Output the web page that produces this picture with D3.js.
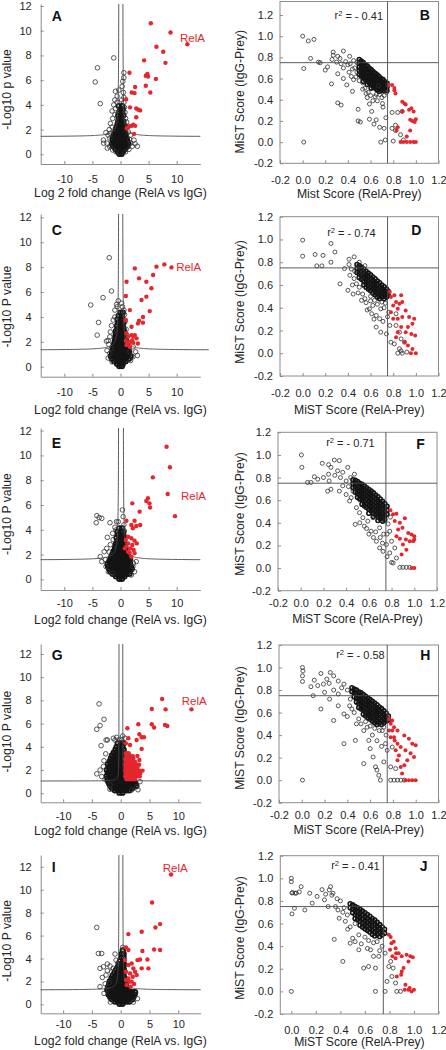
<!DOCTYPE html>
<html><head><meta charset="utf-8">
<script src="https://cdn.jsdelivr.net/npm/d3@7"></script>
<style>
body{margin:0;background:#fff}
svg{display:block}
text{font-family:"Liberation Sans",Arial,Helvetica,sans-serif}
</style>
</head><body>
<svg id="c" width="446" height="1050"></svg>
<script>
// ---------------- tick labels / texts ----------------
const volcanoXTicks = [-10, -5, 0, 5, 10];
const volcanoYTicks = [0, 2, 4, 6, 8, 10, 12];
const mistTicks = [-0.2, 0, 0.2, 0.4, 0.6, 0.8, 1.0, 1.2];
const mistTicksJ = [0, 0.2, 0.4, 0.6, 0.8, 1.0, 1.2];
const volcanoXTitles = ["Log 2 fold change (RelA vs IgG)", "Log2 fold change (RelA vs. IgG)", "Log2 fold change (RelA vs. IgG)", "Log2 fold change (RelA vs. IgG)", "Log2 fold change (RelA vs. IgG)"];
const volcanoYTitles = ["-Log10 p value", "-Log10 P value", "-Log10 P value", "-Log10 P value", "-Log10 P value"];
const mistXTitles = ["Mist Score (RelA-Prey)", "MiST Score (RelA-Prey)", "MiST Score (RelA-Prey)", "MiST Score (RelA-Prey)", "MiST Score (RelA-Prey)"];
const mistYTitle = "MiST Score (IgG-Prey)";
const r2Values = ["- 0.41", "- 0.74", "- 0.71", "- 0.58", "- 0.41"];
const volcanoLetters = ["A", "C", "E", "G", "I"];
const mistLetters = ["B", "D", "F", "H", "J"];
const mistThreshold = 0.75;
// volcano significance curves: [left asymptote, right asymptote, baseline, curvature]
const aThr = [-0.27, 0.39, 1.42, 0.45];
const cThr = [-0.30, 0.36, 1.33, 0.50];
const eThr = [-0.30, 0.47, 1.55, 0.50];
const gThr = [-0.29, 0.35, 1.05, 0.08];
const iThr = [-0.29, 0.35, 1.25, 0.30];

// ---------------- Panel A ----------------
const aCore = [[-0.2,0.05],[0.2,0.05],[-0.5,0.25],[0,0.25],[0.45,0.25],[-0.9,0.45],[-0.45,0.45],[0,0.45],[0.45,0.45],[0.85,0.45],
[-1.3,0.65],[-0.8,0.65],[-0.3,0.65],[0.2,0.65],[0.7,0.65],[1.2,0.65],[-1.5,0.85],[-1.0,0.85],[-0.5,0.85],[0,0.85],[0.5,0.85],[1.0,0.85],[1.4,0.85],
[-1.3,1.05],[-0.8,1.05],[-0.3,1.05],[0.2,1.05],[0.7,1.05],[1.2,1.05],[-1.4,1.25],[-0.9,1.25],[-0.4,1.25],[0.1,1.25],[0.6,1.25],[1.1,1.25],
[-1.2,1.45],[-0.7,1.45],[-0.2,1.45],[0.3,1.45],[0.8,1.45],[-1.1,1.65],[-0.6,1.65],[-0.1,1.65],[0.4,1.65],[0.9,1.65],
[-0.9,1.85],[-0.4,1.85],[0.1,1.85],[0.6,1.85],[-0.8,2.05],[-0.3,2.05],[0.2,2.05],[0.7,2.05],[-0.6,2.25],[-0.1,2.25],[0.4,2.25],[0.8,2.25],
[-0.5,2.45],[0,2.45],[0.5,2.45],[-0.4,2.65],[0.1,2.65],[0.5,2.65],[-0.3,2.9],[0.2,2.9],[-0.4,3.15],[0.1,3.15],[0.5,3.15],
[-0.2,3.4],[0.3,3.4],[0,3.65],[0.4,3.65],[-0.3,3.9],[0.3,3.9]];
const aBlack = [[-1.2,7.8],[-4.1,7.0],[-4.5,5.85],[-3.6,4.1],[0.6,6.6],[0.6,6.2],[0.4,5.9],[0.3,5.5],[-0.3,5.2],[-0.9,5.1],[0.5,5.0],[-0.6,4.7],[0.6,4.6],
[-1.0,4.4],[0.2,4.4],[-0.6,4.2],[0.6,4.2],[-1.2,4.0],[-0.9,3.7],[0.7,3.8],[-1.5,3.5],[-1.0,3.2],[0.8,3.4],[-1.4,2.9],[0.9,2.9],[-1.8,2.5],[1.1,2.6],
[1.2,2.2],[-1.5,2.2],[-2.0,2.0],[1.4,1.8],[-1.8,1.7],[-2.6,1.75],[-2.2,1.55],[1.8,1.55],[-1.9,1.3],[1.6,1.2],[-3.05,1.15],[2.4,1.15],[-2.4,0.9],
[1.8,0.9],[2.6,0.85],[-1.9,0.6],[2.1,0.65],[-2.35,0.5],[1.5,0.4],[-1.4,0.35],[0.9,0.2],[-0.8,0.2],[3.0,0.65],[-3.0,0.9]];
const aRed = [[5.4,10.6],[8.9,9.85],[11.9,8.9],[6.4,8.7],[7.6,8.3],[4.2,7.6],[8.0,7.4],[1.6,6.6],[4.8,6.5],[4.5,6.35],[4.9,6.3],[6.3,6.1],
[2.6,5.45],[4.5,5.55],[2.0,5.0],[2.5,4.95],[5.3,5.0],[1.0,4.45],[1.7,3.8],[2.8,3.7],[3.2,3.6],[3.5,3.55],[2.8,3.0],[2.3,2.4],[2.0,2.3],
[1.4,2.2],[1.1,2.1],[1.7,2.3],[2.6,2.3],[2.4,1.65]];

// ---------------- Panel C ----------------
const cCore = [[-0.2,0.05],[0.25,0.05],[-0.6,0.25],[-0.1,0.25],[0.4,0.25],[-1.1,0.45],[-0.6,0.45],[-0.1,0.45],[0.4,0.45],[0.9,0.45],
[-1.5,0.65],[-1.0,0.65],[-0.5,0.65],[0,0.65],[0.5,0.65],[1.0,0.65],[1.5,0.65],[-1.7,0.85],[-1.2,0.85],[-0.7,0.85],[-0.2,0.85],[0.3,0.85],[0.8,0.85],[1.3,0.85],[1.8,0.85],
[-1.5,1.05],[-1.0,1.05],[-0.5,1.05],[0,1.05],[0.5,1.05],[1.0,1.05],[1.5,1.05],[-1.4,1.25],[-0.9,1.25],[-0.4,1.25],[0.1,1.25],[0.6,1.25],[1.1,1.25],[1.5,1.25],
[-1.3,1.45],[-0.8,1.45],[-0.3,1.45],[0.2,1.45],[0.7,1.45],[1.2,1.45],[-1.2,1.65],[-0.7,1.65],[-0.2,1.65],[0.3,1.65],[0.8,1.65],[1.2,1.65],
[-1.1,1.85],[-0.6,1.85],[-0.1,1.85],[0.4,1.85],[0.9,1.85],[-1.0,2.05],[-0.5,2.05],[0,2.05],[0.5,2.05],[1.0,2.05],
[-0.9,2.25],[-0.4,2.25],[0.1,2.25],[0.6,2.25],[-0.9,2.45],[-0.4,2.45],[0.1,2.45],[0.6,2.45],[-0.7,2.65],[-0.2,2.65],[0.3,2.65],[0.7,2.65],
[-0.8,2.85],[-0.3,2.85],[0.2,2.85],[0.6,2.85],[-0.5,3.05],[0,3.05],[0.5,3.05],[-0.6,3.3],[-0.1,3.3],[0.4,3.3],[-0.4,3.55],[0.1,3.55],[0.5,3.55],
[-0.5,3.8],[0,3.8],[0.4,3.8],[-0.3,4.1],[0.2,4.1],[0,4.35],[0.4,4.35]];
const cBlack = [[-2.0,8.76],[-1.6,6.08],[-3.1,5.55],[-5.3,4.96],[-3.9,3.56],[-4.15,2.54],[-2.5,2.06],[-2.2,2.1],[-0.4,5.3],[-0.6,4.82],[0.36,4.82],
[-1.0,4.55],[0.6,4.55],[-1.0,4.0],[-1.3,3.75],[0.7,4.2],[-1.6,3.3],[0.8,3.6],[-1.8,2.8],[1.0,3.0],[-1.9,2.4],[1.2,2.5],[-2.1,1.8],[1.5,1.9],
[2.25,1.6],[2.7,1.2],[1.66,1.2],[-1.6,1.47],[-1.9,1.07],[-2.4,1.3],[2.2,0.8],[-2.2,0.7],[1.8,0.5],[-1.5,0.4],[3.0,0.9],[-0.7,5.0],[0.2,5.1]];
const cRed = [[9.07,7.98],[7.8,8.22],[6.4,8.04],[5.8,7.37],[2.55,7.9],[3.3,7.1],[4.6,6.83],[5.5,6.3],[1.07,6.83],[0.95,5.68],[3.74,5.36],[4.6,5.63],
[5.2,4.47],[1.66,4.55],[4.0,4.0],[3.3,3.7],[3.1,3.48],[4.0,3.54],[0.95,3.75],[1.96,3.21],[1.07,2.68],[1.36,2.41],[1.96,2.54],[2.55,2.54],[2.85,2.28],
[2.1,2.14],[1.66,2.0],[0.95,2.09],[1.25,1.87],[2.25,1.93],[1.66,1.6],[1.07,1.74],[3.1,1.87],[2.25,2.46]];

// ---------------- Panel E ----------------
const eCore = [[-0.2,0.05],[0.25,0.05],[-0.8,0.25],[-0.3,0.25],[0.2,0.25],[0.7,0.25],[-1.4,0.45],[-0.9,0.45],[-0.4,0.45],[0.1,0.45],[0.6,0.45],[1.1,0.45],[1.6,0.45],
[-1.8,0.65],[-1.3,0.65],[-0.8,0.65],[-0.3,0.65],[0.2,0.65],[0.7,0.65],[1.2,0.65],[1.7,0.65],[-2.0,0.85],[-1.5,0.85],[-1.0,0.85],[-0.5,0.85],[0,0.85],[0.5,0.85],[1.0,0.85],[1.5,0.85],[2.0,0.85],
[-2.2,1.05],[-1.7,1.05],[-1.2,1.05],[-0.7,1.05],[-0.2,1.05],[0.3,1.05],[0.8,1.05],[1.3,1.05],[1.8,1.05],[-2.3,1.25],[-1.8,1.25],[-1.3,1.25],[-0.8,1.25],[-0.3,1.25],[0.2,1.25],[0.7,1.25],[1.2,1.25],[1.7,1.25],
[-2.0,1.45],[-1.5,1.45],[-1.0,1.45],[-0.5,1.45],[0,1.45],[0.5,1.45],[1.0,1.45],[1.5,1.45],[-1.8,1.65],[-1.3,1.65],[-0.8,1.65],[-0.3,1.65],[0.2,1.65],[0.7,1.65],[1.2,1.65],[1.7,1.65],
[-1.6,1.85],[-1.1,1.85],[-0.6,1.85],[-0.1,1.85],[0.4,1.85],[0.9,1.85],[1.4,1.85],[-1.4,2.05],[-0.9,2.05],[-0.4,2.05],[0.1,2.05],[0.6,2.05],[1.1,2.05],
[-1.2,2.25],[-0.7,2.25],[-0.2,2.25],[0.3,2.25],[0.8,2.25],[-1.0,2.45],[-0.5,2.45],[0,2.45],[0.5,2.45],[0.9,2.45],[-0.9,2.65],[-0.4,2.65],[0.1,2.65],[0.6,2.65],
[-0.8,2.85],[-0.3,2.85],[0.2,2.85],[0.7,2.85],[-0.6,3.1],[-0.1,3.1],[0.4,3.1],[-0.7,3.35],[-0.2,3.35],[0.3,3.35],[0.6,3.35],[-0.4,3.6],[0.1,3.6],[0.5,3.6],
[-0.5,3.85],[0,3.85],[0.4,3.85],[-0.2,4.1],[0.3,4.1]];
const eBlack = [[-4.2,5.14],[-3.8,4.98],[-3.33,4.92],[-4.33,4.57],[-1.87,4.57],[-0.4,4.65],[-0.7,4.65],[0.35,5.6],[0.47,5.06],[-1.0,4.2],[-0.82,3.98],
[-1.4,3.71],[-2.34,3.39],[-2.46,2.5],[-2.9,2.23],[-3.6,1.83],[-3.33,1.43],[-2.57,1.02],[-2.16,0.62],[-1.4,0.48],[2.2,1.02],[2.8,1.43],[2.5,0.62],
[1.93,0.35],[0.6,4.4],[0.7,3.9],[-1.3,3.2],[-1.8,2.8],[-2.0,2.2],[-2.7,1.6],[2.3,1.3]];
const eRed = [[8.2,10.7],[8.8,9.04],[5.76,8.23],[8.4,6.89],[4.88,6.54],[4.59,6.32],[5.15,6.13],[5.26,5.8],[9.7,5.1],[2.1,6.13],[3.4,5.46],[2.5,4.73],
[1.05,4.73],[1.93,4.39],[2.8,4.3],[3.5,4.39],[2.2,4.12],[1.35,3.44],[1.93,3.31],[2.5,3.12],[2.9,2.9],[1.35,2.9],[2.1,2.77],[1.75,2.5],[2.34,2.37],
[1.05,2.64],[1.64,2.15],[2.5,2.1],[1.93,1.83],[1.35,2.23],[0.76,2.5],[0.94,3.17]];

// ---------------- Panel G ----------------
const gCore = [[-0.2,0.05],[0.3,0.05],[-1.0,0.25],[-0.5,0.25],[0,0.25],[0.5,0.25],[1.0,0.25],[1.5,0.25],
[-1.5,0.45],[-1.0,0.45],[-0.5,0.45],[0,0.45],[0.5,0.45],[1.0,0.45],[1.5,0.45],[2.0,0.45],
[-1.8,0.65],[-1.3,0.65],[-0.8,0.65],[-0.3,0.65],[0.2,0.65],[0.7,0.65],[1.2,0.65],[1.7,0.65],[2.2,0.65],[2.7,0.65],
[-2.0,0.85],[-1.5,0.85],[-1.0,0.85],[-0.5,0.85],[0,0.85],[0.5,0.85],[1.0,0.85],[1.5,0.85],[2.0,0.85],[2.5,0.85],
[-2.2,1.05],[-1.7,1.05],[-1.2,1.05],[-0.7,1.05],[-0.2,1.05],[0.3,1.05],[0.8,1.05],[1.3,1.05],[1.8,1.05],[2.3,1.05],
[-2.3,1.25],[-1.8,1.25],[-1.3,1.25],[-0.8,1.25],[-0.3,1.25],[0.2,1.25],[0.6,1.25],[-2.4,1.5],[-1.9,1.5],[-1.4,1.5],[-0.9,1.5],[-0.4,1.5],[0.1,1.5],[0.55,1.5],
[-2.2,1.75],[-1.7,1.75],[-1.2,1.75],[-0.7,1.75],[-0.2,1.75],[0.3,1.75],[-2.4,2.0],[-1.9,2.0],[-1.4,2.0],[-0.9,2.0],[-0.4,2.0],[0.1,2.0],[0.55,2.0],
[-2.1,2.25],[-1.6,2.25],[-1.1,2.25],[-0.6,2.25],[-0.1,2.25],[0.4,2.25],[-2.2,2.5],[-1.7,2.5],[-1.2,2.5],[-0.7,2.5],[-0.2,2.5],[0.3,2.5],
[-1.9,2.75],[-1.4,2.75],[-0.9,2.75],[-0.4,2.75],[0.1,2.75],[0.5,2.75],[-1.7,3.0],[-1.2,3.0],[-0.7,3.0],[-0.2,3.0],[0.3,3.0],
[-1.5,3.25],[-1.0,3.25],[-0.5,3.25],[0,3.25],[0.45,3.25],[-1.2,3.5],[-0.7,3.5],[-0.2,3.5],[0.3,3.5],[-0.9,3.75],[-0.4,3.75],[0.1,3.75],[0.5,3.75],
[-0.7,4.0],[-0.2,4.0],[0.3,4.0],[-0.5,4.3],[0,4.3],[0.45,4.3]];
const gBlack = [[-3.76,7.7],[-2.9,6.37],[-3.58,5.83],[-4.16,5.51],[-2.54,4.59],[-2.31,4.59],[-3.41,4.1],[-1.27,4.74],[-0.98,4.59],[-0.7,4.82],[0.75,4.74],
[0.35,4.94],[1.9,3.16],[-3.0,2.3],[-3.58,2.0],[-3.3,1.44],[-4.16,1.67],[-1.85,0.72],[-1.85,0.34],[2.77,0.57],[1.9,0.29],[3.35,1.0],[-2.6,3.4],
[-2.9,2.8],[-2.7,1.2],[3.0,0.3],[-0.3,4.6],[0.2,4.6]];
const gRed = [[7.2,8.12],[5.4,7.26],[7.8,7.23],[12.3,7.23],[5.4,5.94],[5.8,5.66],[7.7,5.89],[8.1,5.8],[3.06,5.94],[1.16,5.6],[3.24,5.08],[3.64,4.82],
[4.05,4.82],[2.77,4.59],[1.33,4.74],[3.64,3.82],[0.92,4.3],[1.62,4.16],[2.9,3.22],[3.24,2.87],[2.2,3.0],[1.04,3.44],
[1.0,1.2],[1.5,1.2],[2.0,1.2],[2.5,1.2],[0.8,1.45],[1.3,1.45],[1.8,1.45],[2.3,1.45],[2.8,1.45],[3.3,1.45],
[0.9,1.7],[1.4,1.7],[1.9,1.7],[2.4,1.7],[2.9,1.7],[3.4,1.7],[0.8,1.95],[1.3,1.95],[1.8,1.95],[2.3,1.95],[2.8,1.95],[3.3,1.95],[3.8,1.95],
[0.9,2.2],[1.4,2.2],[1.9,2.2],[2.4,2.2],[2.9,2.2],[0.8,2.45],[1.3,2.45],[1.8,2.45],[2.3,2.45],[2.8,2.45],[3.2,2.45],
[0.9,2.7],[1.4,2.7],[1.9,2.7],[2.5,2.7],[0.8,2.95],[1.3,2.95],[1.8,2.95],[1.0,3.2],[1.5,3.2],[2.1,3.2],[0.9,3.45],[1.4,3.45]];

// ---------------- Panel I ----------------
const iCore = [[-0.2,0.05],[0.3,0.05],[-1.0,0.25],[-0.5,0.25],[0,0.25],[0.5,0.25],[1.0,0.25],[1.5,0.25],
[-1.5,0.45],[-1.0,0.45],[-0.5,0.45],[0,0.45],[0.5,0.45],[1.0,0.45],[1.5,0.45],[2.0,0.45],
[-1.8,0.65],[-1.3,0.65],[-0.8,0.65],[-0.3,0.65],[0.2,0.65],[0.7,0.65],[1.2,0.65],[1.7,0.65],[2.2,0.65],
[-2.1,0.85],[-1.6,0.85],[-1.1,0.85],[-0.6,0.85],[-0.1,0.85],[0.4,0.85],[0.9,0.85],[1.4,0.85],[1.9,0.85],[2.4,0.85],
[-2.0,1.05],[-1.5,1.05],[-1.0,1.05],[-0.5,1.05],[0,1.05],[0.5,1.05],[1.0,1.05],[1.5,1.05],[2.0,1.05],[2.5,1.05],
[-2.3,1.25],[-1.8,1.25],[-1.3,1.25],[-0.8,1.25],[-0.3,1.25],[0.2,1.25],[0.7,1.25],[1.1,1.25],
[-2.2,1.5],[-1.7,1.5],[-1.2,1.5],[-0.7,1.5],[-0.2,1.5],[0.3,1.5],[0.8,1.5],[-2.0,1.75],[-1.5,1.75],[-1.0,1.75],[-0.5,1.75],[0,1.75],[0.5,1.75],[0.9,1.75],
[-1.9,2.0],[-1.4,2.0],[-0.9,2.0],[-0.4,2.0],[0.1,2.0],[0.6,2.0],[-1.6,2.25],[-1.1,2.25],[-0.6,2.25],[-0.1,2.25],[0.4,2.25],[0.7,2.25],
[-1.4,2.5],[-0.9,2.5],[-0.4,2.5],[0.1,2.5],[0.5,2.5],[-1.1,2.75],[-0.6,2.75],[-0.1,2.75],[0.4,2.75],[-0.8,3.0],[-0.3,3.0],[0.2,3.0],[0.55,3.0],
[-0.5,3.25],[0,3.25],[0.45,3.25],[-0.3,3.5],[0.2,3.5],[0.55,3.5],[-0.1,3.8],[0.4,3.8],[0.1,4.1],[0.5,4.1],[0.2,4.4],[0.5,4.4],[0.35,4.7]];
const iBlack = [[-4.17,6.71],[-3.88,4.44],[-3.3,4.44],[-3.6,3.14],[-3.0,3.28],[-2.32,3.52],[-1.86,3.34],[-2.32,2.93],[-2.55,2.56],[-3.19,2.35],
[-3.6,1.54],[-2.9,0.96],[-2.43,1.25],[-0.99,4.39],[-0.81,3.86],[-1.28,3.14],[-1.57,2.85],[0.35,4.97],[0.46,4.74],[-2.0,1.9],[-2.7,1.8],
[2.9,0.5],[2.2,0.2],[-1.8,0.2],[-0.5,3.6]];
const iRed = [[8.75,11.33],[5.45,8.89],[6.84,7.0],[6.03,6.71],[1.33,6.13],[3.65,6.33],[5.8,4.79],[6.84,4.74],[3.77,4.65],[0.93,4.97],[1.33,4.74],
[2.9,3.86],[3.36,3.92],[4.64,3.92],[3.65,3.14],[4.81,3.14],[1.91,3.57],[2.2,3.14],[1.33,3.43],[0.75,3.86],[0.93,2.85],[1.62,2.7],[2.49,2.85],
[2.09,2.41],[1.33,2.27],[2.78,2.56],[0.93,2.12],[1.51,1.98],[1.91,1.98],[2.32,1.77],[1.04,1.69],[1.74,1.54]];

// ---------------- Panel B ----------------
const bBand = [[0.50,0.78],[0.50,0.745],[0.50,0.71],[0.50,0.675],[0.50,0.64],[0.517,0.765],[0.517,0.73],[0.517,0.695],[0.517,0.66],[0.517,0.625],
[0.535,0.75],[0.535,0.715],[0.535,0.68],[0.535,0.645],[0.535,0.61],[0.535,0.575],[0.552,0.73],[0.552,0.695],[0.552,0.66],[0.552,0.625],[0.552,0.59],
[0.57,0.72],[0.57,0.685],[0.57,0.65],[0.57,0.615],[0.57,0.58],[0.57,0.545],[0.587,0.70],[0.587,0.665],[0.587,0.63],[0.587,0.595],[0.587,0.56],
[0.605,0.685],[0.605,0.65],[0.605,0.615],[0.605,0.58],[0.605,0.545],[0.605,0.51],[0.622,0.665],[0.622,0.63],[0.622,0.595],[0.622,0.56],[0.622,0.525],
[0.64,0.65],[0.64,0.615],[0.64,0.58],[0.64,0.545],[0.64,0.51],[0.657,0.635],[0.657,0.60],[0.657,0.565],[0.657,0.53],[0.657,0.495],
[0.675,0.62],[0.675,0.585],[0.675,0.55],[0.675,0.515],[0.675,0.48],[0.692,0.60],[0.692,0.565],[0.692,0.53],[0.692,0.495],
[0.71,0.59],[0.71,0.555],[0.71,0.52],[0.71,0.485],[0.727,0.57],[0.727,0.535],[0.727,0.50],[0.745,0.555],[0.745,0.52],[0.745,0.485]];
const bBlack = [[0.0,1.0],[0.05,0.955],[0.1,0.97],[0.07,0.79],[0.01,0.695],[0.01,0.0],[0.14,0.755],[0.155,0.75],[0.2,0.68],[0.255,0.55],[0.27,0.85],
[0.27,0.82],[0.31,0.81],[0.36,0.86],[0.33,0.79],[0.30,0.755],[0.31,0.645],[0.36,0.60],[0.40,0.73],[0.31,0.37],[0.34,0.35],[0.39,0.54],[0.44,0.48],
[0.49,0.31],[0.49,0.20],[0.51,0.19],[0.415,0.81],[0.46,0.70],[0.47,0.615],[0.53,0.56],[0.56,0.46],[0.59,0.216],[0.65,0.21],[0.63,0.17],[0.61,0.29],
[0.68,0.14],[0.705,0.364],[0.70,0.42],[0.735,0.23],[0.72,0.13],[0.69,0.0],[0.73,0.02],[0.65,0.45],[0.62,0.39],[0.59,0.36],[0.67,0.53],[0.75,0.54],
[0.79,0.28],[0.84,0.28],[0.88,0.29],[0.82,0.11],[0.865,0.07],[0.8,0.01],[0.89,0.02],[0.79,0.13],[0.82,0.16],[0.38,0.76],[0.42,0.74],[0.44,0.69],
[0.43,0.62],[0.48,0.66],[0.5,0.58],[0.55,0.51],[0.58,0.47],[0.6,0.44],[0.64,0.43],[0.68,0.45],[0.72,0.44],[0.74,0.47],[0.66,0.39],[0.71,0.33],
[0.57,0.42],[0.53,0.5],[0.45,0.59],[0.41,0.66],[0.36,0.7],[0.34,0.74],[0.26,0.78],[0.22,0.71],[0.45,0.77],[0.48,0.75]];
const bRed = [[0.76,0.54],[0.81,0.49],[0.82,0.46],[0.88,0.38],[0.91,0.355],[0.94,0.305],[0.96,0.32],[0.98,0.29],[0.88,0.29],[0.95,0.21],[0.97,0.2],
[0.99,0.19],[1.0,0.215],[0.84,0.14],[0.83,0.11],[0.95,0.11],[0.92,0.053],[0.865,0.0],[0.89,0.0],[0.92,0.0],[0.95,0.0],[0.98,0.0],[1.0,0.0],
[0.9,0.365],[0.81,0.51],[0.79,0.54]];

// ---------------- Panel D ----------------
const dBand = [[0.48,0.78],[0.48,0.745],[0.48,0.71],[0.50,0.77],[0.50,0.735],[0.50,0.70],[0.50,0.665],[0.52,0.755],[0.52,0.72],[0.52,0.685],[0.52,0.65],
[0.54,0.74],[0.54,0.705],[0.54,0.67],[0.54,0.635],[0.54,0.60],[0.56,0.72],[0.56,0.685],[0.56,0.65],[0.56,0.615],[0.56,0.58],
[0.58,0.705],[0.58,0.67],[0.58,0.635],[0.58,0.60],[0.58,0.565],[0.60,0.69],[0.60,0.655],[0.60,0.62],[0.60,0.585],[0.60,0.55],
[0.62,0.67],[0.62,0.635],[0.62,0.60],[0.62,0.565],[0.62,0.53],[0.64,0.655],[0.64,0.62],[0.64,0.585],[0.64,0.55],[0.64,0.515],
[0.66,0.635],[0.66,0.60],[0.66,0.565],[0.66,0.53],[0.66,0.495],[0.68,0.62],[0.68,0.585],[0.68,0.55],[0.68,0.515],[0.68,0.48],
[0.70,0.60],[0.70,0.565],[0.70,0.53],[0.70,0.495],[0.72,0.585],[0.72,0.55],[0.72,0.515],[0.72,0.48],[0.74,0.565],[0.74,0.53],[0.74,0.495],[0.755,0.545],[0.755,0.51]];
const dBlack = [[0,0.994],[0,0.853],[0.11,0.868],[0.125,0.768],[0.17,0.768],[0.25,0.965],[0.285,0.89],[0.25,0.80],[0.33,0.61],[0.37,0.744],[0.41,0.826],
[0.455,0.847],[0.40,0.553],[0.446,0.52],[0.417,0.685],[0.455,0.656],[0.475,0.61],[0.5,0.58],[0.53,0.52],[0.52,0.465],[0.56,0.444],[0.59,0.39],
[0.61,0.347],[0.635,0.465],[0.65,0.332],[0.68,0.303],[0.65,0.23],[0.69,0.185],[0.74,0.17],[0.77,0.244],[0.78,0.097],[0.81,0.082],[0.855,0.04],
[0.88,0],[0.92,0.01],[0.75,0.32],[0.72,0.4],[0.69,0.39],[0.825,0.244],[0.855,0.185],[0.87,0.126],[0.9,0.097],[0.825,0.347],[0.5,0.80],[0.53,0.715],
[0.55,0.77],[0.43,0.74],[0.46,0.72],[0.44,0.6],[0.49,0.53],[0.55,0.48],[0.6,0.46],[0.62,0.42],[0.66,0.43],[0.7,0.45],[0.73,0.44],[0.57,0.38],
[0.63,0.3],[0.71,0.28],[0.76,0.36],[0.6,0.5],[0.48,0.75],[0.41,0.78],[0.84,0.0],[0.87,0.02],[0.18,0.86]];
const dRed = [[0.78,0.494],[0.81,0.51],[0.77,0.54],[0.825,0.45],[0.855,0.435],[0.8,0.42],[0.84,0.39],[0.88,0.45],[0.91,0.376],[0.88,0.318],
[0.94,0.318],[0.985,0.303],[0.97,0.26],[0.93,0.23],[0.87,0.23],[0.84,0.185],[0.91,0.185],[0.96,0.17],[0.994,0.156],[0.825,0.14],[0.9,0.097],
[0.93,0.068],[0.97,0.038],[1.0,0],[0.956,0],[0.8,0.303],[0.84,0.303],[0.78,0.36],[0.87,0.51]];

// ---------------- Panel F ----------------
const fBand = [[0.46,0.78],[0.46,0.745],[0.46,0.71],[0.48,0.775],[0.48,0.74],[0.48,0.705],[0.48,0.67],
[0.50,0.765],[0.50,0.73],[0.50,0.695],[0.50,0.66],[0.50,0.625],[0.52,0.75],[0.52,0.715],[0.52,0.68],[0.52,0.645],[0.52,0.61],
[0.54,0.74],[0.54,0.705],[0.54,0.67],[0.54,0.635],[0.54,0.60],[0.54,0.565],[0.56,0.725],[0.56,0.69],[0.56,0.655],[0.56,0.62],[0.56,0.585],[0.56,0.55],
[0.58,0.71],[0.58,0.675],[0.58,0.64],[0.58,0.605],[0.58,0.57],[0.58,0.535],[0.60,0.695],[0.60,0.66],[0.60,0.625],[0.60,0.59],[0.60,0.555],[0.60,0.52],[0.60,0.485],
[0.62,0.68],[0.62,0.645],[0.62,0.61],[0.62,0.575],[0.62,0.54],[0.62,0.505],[0.64,0.665],[0.64,0.63],[0.64,0.595],[0.64,0.56],[0.64,0.525],[0.64,0.49],[0.64,0.455],
[0.66,0.645],[0.66,0.61],[0.66,0.575],[0.66,0.54],[0.66,0.505],[0.66,0.47],[0.68,0.63],[0.68,0.595],[0.68,0.56],[0.68,0.525],[0.68,0.49],[0.68,0.455],[0.68,0.42],
[0.70,0.61],[0.70,0.575],[0.70,0.54],[0.70,0.505],[0.70,0.47],[0.70,0.435],[0.72,0.59],[0.72,0.555],[0.72,0.52],[0.72,0.485],[0.72,0.45],[0.72,0.415],
[0.74,0.57],[0.74,0.535],[0.74,0.50],[0.74,0.465],[0.74,0.43],[0.76,0.545],[0.76,0.51],[0.76,0.475]];
const fBlack = [[0.006,1.0],[0.01,0.89],[0.06,0.757],[0.09,0.757],[0.12,0.807],[0.15,0.786],[0.19,0.926],[0.245,0.914],[0.266,0.89],[0.245,0.83],
[0.296,0.955],[0.34,0.95],[0.325,0.86],[0.37,0.846],[0.414,0.89],[0.473,0.83],[0.25,0.77],[0.266,0.697],[0.237,0.68],[0.34,0.68],[0.37,0.727],
[0.4,0.77],[0.444,0.623],[0.48,0.386],[0.43,0.593],[0.49,0.534],[0.518,0.49],[0.547,0.445],[0.59,0.415],[0.62,0.326],[0.666,0.237],[0.695,0.178],
[0.725,0.148],[0.754,0.208],[0.784,0.134],[0.814,0.045],[0.843,0.089],[0.873,0.006],[0.9,0.006],[0.93,0.006],[0.96,0.006],[0.74,0.415],[0.695,0.356],
[0.636,0.445],[0.8,0.237],[0.828,0.178],[0.784,0.326],[0.42,0.72],[0.44,0.8],[0.46,0.68],[0.4,0.65],[0.52,0.4],[0.56,0.37],[0.6,0.3],[0.64,0.27],
[0.7,0.27],[0.73,0.3],[0.77,0.39],[0.76,0.3],[0.79,0.45],[0.58,0.35],[0.66,0.32],[0.72,0.22],[0.76,0.1],[0.8,0.05],[0.35,0.8],[0.3,0.82],[0.2,0.8]];
const fRed = [[0.79,0.51],[0.814,0.475],[0.843,0.48],[0.873,0.4],[0.896,0.356],[0.858,0.341],[0.947,0.311],[0.976,0.297],[1.0,0.282],[0.99,0.237],
[0.96,0.237],[1.0,0.252],[0.926,0.252],[0.9,0.208],[0.93,0.163],[0.888,0.119],[0.843,0.282],[0.976,0],[1.0,0],[0.828,0.415],[0.917,0.44],[0.873,0.26]];

// ---------------- Panel H ----------------
const hBand = [[0.44,0.82],[0.44,0.785],[0.46,0.81],[0.46,0.775],[0.46,0.74],[0.48,0.80],[0.48,0.765],[0.48,0.73],[0.48,0.695],
[0.50,0.785],[0.50,0.75],[0.50,0.715],[0.50,0.68],[0.50,0.645],[0.52,0.775],[0.52,0.74],[0.52,0.705],[0.52,0.67],[0.52,0.635],
[0.54,0.76],[0.54,0.725],[0.54,0.69],[0.54,0.655],[0.54,0.62],[0.54,0.585],[0.56,0.745],[0.56,0.71],[0.56,0.675],[0.56,0.64],[0.56,0.605],[0.56,0.57],
[0.58,0.73],[0.58,0.695],[0.58,0.66],[0.58,0.625],[0.58,0.59],[0.58,0.555],[0.60,0.715],[0.60,0.68],[0.60,0.645],[0.60,0.61],[0.60,0.575],[0.60,0.54],
[0.62,0.70],[0.62,0.665],[0.62,0.63],[0.62,0.595],[0.62,0.56],[0.62,0.525],[0.64,0.685],[0.64,0.65],[0.64,0.615],[0.64,0.58],[0.64,0.545],[0.64,0.51],
[0.66,0.67],[0.66,0.635],[0.66,0.60],[0.66,0.565],[0.66,0.53],[0.66,0.495],[0.68,0.65],[0.68,0.615],[0.68,0.58],[0.68,0.545],[0.68,0.51],
[0.70,0.635],[0.70,0.60],[0.70,0.565],[0.70,0.53],[0.70,0.495],[0.72,0.615],[0.72,0.58],[0.72,0.545],[0.72,0.51],[0.74,0.595],[0.74,0.56],[0.74,0.525],[0.76,0.57],[0.76,0.535]];
const hBlack = [[0.006,1.0],[0.01,0.97],[0.006,0.926],[0.006,0.876],[0.08,0.83],[0.11,0.888],[0.1,0.75],[0.168,0.947],[0.19,0.853],[0.168,0.632],
[0.22,0.897],[0.25,0.956],[0.28,0.926],[0.244,0.72],[0.28,0.53],[0.32,0.88],[0.32,0.765],[0.32,0.66],[0.37,0.853],[0.37,0.588],[0.4,0.565],
[0.37,0.324],[0.426,0.72],[0.47,0.353],[0.44,0.632],[0.5,0.544],[0.544,0.44],[0.574,0.47],[0.544,0.147],[0.588,0.353],[0.6,0.28],[0.626,0.206],
[0.647,0.118],[0.66,0.09],[0.676,0.044],[0.69,0],[0.72,0.162],[0.75,0.265],[0.78,0.118],[0.794,0.294],[0.824,0.103],[0.78,0],[0.81,0],[0.84,0],
[0.87,0],[0.9,0],[0.735,0.324],[0.706,0.44],[0.006,0],[0.35,0.82],[0.4,0.8],[0.42,0.66],[0.46,0.6],[0.48,0.5],[0.52,0.5],[0.56,0.52],[0.6,0.48],
[0.64,0.46],[0.68,0.44],[0.72,0.47],[0.74,0.4],[0.62,0.4],[0.66,0.35],[0.7,0.3],[0.24,0.86],[0.28,0.8],[0.2,0.78],[0.14,0.84]];
const hRed = [[0.78,0.5],[0.794,0.44],[0.81,0.382],[0.84,0.324],[0.824,0.265],[0.853,0.22],[0.84,0.176],[0.9,0.397],[0.94,0.368],[0.97,0.324],
[1.0,0.31],[0.985,0.206],[0.955,0.24],[0.91,0.265],[0.926,0.176],[0.9,0.132],[0.868,0.118],[0.88,0.06],[0.91,0],[0.94,0],[0.97,0],[1.0,0],
[0.794,0.53],[0.765,0.544],[0.81,0.47],[0.84,0.44],[0.815,0.353],[0.868,0.294],[0.78,0.382],[0.765,0.44]];

// ---------------- Panel J ----------------
const jBand = [[0.48,0.775],[0.48,0.74],[0.50,0.765],[0.50,0.73],[0.50,0.695],[0.52,0.75],[0.52,0.715],[0.52,0.68],[0.52,0.645],
[0.54,0.74],[0.54,0.705],[0.54,0.67],[0.54,0.635],[0.56,0.725],[0.56,0.69],[0.56,0.655],[0.56,0.62],[0.56,0.585],
[0.58,0.71],[0.58,0.675],[0.58,0.64],[0.58,0.605],[0.58,0.57],[0.60,0.695],[0.60,0.66],[0.60,0.625],[0.60,0.59],[0.60,0.555],
[0.62,0.68],[0.62,0.645],[0.62,0.61],[0.62,0.575],[0.62,0.54],[0.64,0.665],[0.64,0.63],[0.64,0.595],[0.64,0.56],[0.64,0.525],
[0.66,0.645],[0.66,0.61],[0.66,0.575],[0.66,0.54],[0.66,0.505],[0.68,0.63],[0.68,0.595],[0.68,0.56],[0.68,0.525],[0.68,0.49],
[0.70,0.61],[0.70,0.575],[0.70,0.54],[0.70,0.505],[0.72,0.59],[0.72,0.555],[0.72,0.52],[0.72,0.485],[0.74,0.57],[0.74,0.535],[0.74,0.50],[0.76,0.55],[0.76,0.515]];
const jBlack = [[0,1.0],[0,0.97],[0.01,0.874],[0.03,0.868],[0.065,0.88],[0.08,0.926],[0.005,0.685],[0.025,0.735],[0.11,0.72],[0.15,0.868],[0.17,0.78],
[0.21,0.84],[0.25,0.9],[0.27,0.81],[0.31,0.897],[0.32,0.926],[0.34,0.868],[0.3,0.75],[0.373,0.82],[0.36,0.75],[0.39,0.647],[0.35,0.46],[0.42,0.265],
[0.457,0.676],[0.48,0.57],[0.5,0.47],[0.52,0.44],[0.48,0.426],[0.55,0.368],[0.59,0.206],[0.63,0.22],[0.646,0.368],[0.67,0.31],[0.686,0.206],
[0.686,0],[0.713,0.31],[0.765,0],[0.78,0.088],[0.795,0.22],[0.81,0.265],[0.82,0.132],[0.85,0.074],[0.86,0],[0.89,0],[0.83,0.206],[0.765,0.338],
[0.74,0.4],[0,0],[0.005,0.87],[0.04,0.87],[0.28,0.86],[0.33,0.85],[0.4,0.8],[0.43,0.74],[0.44,0.62],[0.46,0.55],[0.52,0.6],[0.55,0.5],[0.6,0.48],
[0.63,0.45],[0.67,0.43],[0.7,0.44],[0.57,0.42],[0.62,0.38],[0.72,0.36],[0.42,0.7],[0.38,0.72]];
const jRed = [[0.795,0.5],[0.81,0.48],[0.816,0.426],[0.835,0.44],[0.85,0.382],[0.875,0.338],[0.824,0.31],[0.85,0.294],[0.9,0.31],[0.94,0.323],
[0.97,0.31],[0.99,0.303],[0.955,0.265],[0.915,0.206],[0.9,0.176],[0.895,0.147],[0.86,0.132],[0.93,0.059],[0.925,0.015],[0.955,0.015],[0.98,0],
[0.965,0.03],[1.0,0.015],[0.854,0.338],[0.805,0.368]];

// ---------------- layout ----------------
const svg = d3.select('#c');
const AX = '#8c8c8c', TXT = '#262626', RED = '#e5262d', RING = '#303030', CORE = '#141414', THR = '#4a4a4a';

const volcanoPanels = [
  {core:aCore, black:aBlack, red:aRed, thr:aThr, xd:[-14.2,14.2], xr:[40.7,200.3], yd:[-0.785,12.16], yr:[164,4], xPad:11, xTitleY:192.7, yTitleY:89.5, letterY:16.2, relA:[10.6,9.4], lineEnd:14.2},
  {core:cCore, black:cBlack, red:cRed, thr:cThr, xd:[-14.2,14.2], xr:[40.7,200.3], yd:[-0.80,12.27], yr:[376.7,214], xPad:12, xTitleY:409.3, yTitleY:306.7, letterY:230, relA:[9.9,7.98], lineEnd:15.7},
  {core:eCore, black:eBlack, red:eRed, thr:eThr, xd:[-14.2,14.2], xr:[40.7,200.3], yd:[-0.86,12.21], yr:[590,428], xPad:9.3, xTitleY:619.3, yTitleY:514, letterY:443.3, relA:[10.76,6.72], lineEnd:14.2},
  {core:gCore, black:gBlack, red:gRed, thr:gThr, xd:[-13.9,13.9], xr:[40.7,200.7], yd:[-0.78,12.86], yr:[802.3,644], xPad:9.4, xTitleY:831, yTitleY:731.7, letterY:654.7, relA:[10.6,7.95], lineEnd:14.0},
  {core:iCore, black:iBlack, red:iRed, thr:iThr, xd:[-13.9,13.9], xr:[40.7,200.7], yd:[-0.78,13.03], yr:[1013.3,855], xPad:7, xTitleY:1041, yTitleY:940.8, letterY:866.7, relA:[7.3,11.94], lineEnd:13.9}
];
const mistPanels = [
  {band:bBand, black:bBlack, red:bRed, xd:[-0.2,1.2], xt:mistTicks, xr:[280,438.5], yr:[163.3,15], frameTop:1.5, xPad:12.7, xTitleY:193.3, yTitleY:91.7, r2:[383,15], letter:[419.7,15]},
  {band:dBand, black:dBlack, red:dRed, xd:[-0.2,1.2], xt:mistTicks, xr:[280,438.5], yr:[376,216.7], frameTop:216.7, xPad:12.7, xTitleY:409.3, yTitleY:302, r2:[375.7,231.7], letter:[411.3,230]},
  {band:fBand, black:fBlack, red:fRed, xd:[-0.2,1.2], xt:mistTicks, xr:[278,437], yr:[590.7,432.3], frameTop:432.3, xPad:8.6, xTitleY:618.3, yTitleY:514, r2:[374.7,441.7], letter:[416.3,443.8]},
  {band:hBand, black:hBlack, red:hRed, xd:[-0.2,1.2], xt:mistTicks, xr:[279,438.5], yr:[802.7,645], frameTop:645, xPad:9, xTitleY:830, yTitleY:728, r2:[384.7,654], letter:[420.3,654.7]},
  {band:jBand, black:jBlack, red:jRed, xd:[-0.09,1.2], xt:mistTicksJ, xr:[280.3,438.5], yr:[1014,855.7], frameTop:855.7, xPad:12, xTitleY:1041.7, yTitleY:938, r2:[379.7,865], letter:[419.7,866]}
];

function styleAxis(sel){
  sel.select('.domain').attr('stroke', AX).attr('stroke-width', 1);
  sel.selectAll('.tick line').attr('stroke', AX).attr('stroke-width', 1);
  sel.selectAll('.tick text').attr('fill', TXT).style('font-size', '11px').style('font-family', '"Liberation Sans",Arial,sans-serif');
}
function rings(g, data, x, y, r, sw, col){
  g.append('g').selectAll('circle').data(data).join('circle')
    .attr('cx', d => x(d[0])).attr('cy', d => y(d[1])).attr('r', r)
    .attr('fill', 'none').attr('stroke', col).attr('stroke-width', sw);
}
function dots(g, data, x, y, r){
  g.append('g').selectAll('circle').data(data).join('circle')
    .attr('cx', d => x(d[0])).attr('cy', d => y(d[1])).attr('r', r)
    .attr('fill', RED);
}
function yTitle(text, cx, cy){
  svg.append('text').attr('transform', `translate(${cx},${cy}) rotate(-90)`)
    .attr('text-anchor', 'middle').attr('dy', '0.35em')
    .attr('fill', TXT).style('font-size', '12.2px').text(text);
}
function xTitle(text, cx, cy){
  svg.append('text').attr('x', cx).attr('y', cy).attr('dy', '0.35em')
    .attr('text-anchor', 'middle').attr('fill', TXT).style('font-size', '12.2px').text(text);
}

volcanoPanels.forEach((p, i) => {
  const x = d3.scaleLinear().domain(p.xd).range(p.xr);
  const y = d3.scaleLinear().domain(p.yd).range(p.yr);
  const g = svg.append('g');
  g.append('g').attr('transform', `translate(0,${p.yr[0]})`)
    .call(d3.axisBottom(x).tickValues(volcanoXTicks).tickFormat(d => String(d)).tickSize(-3).tickSizeOuter(0).tickPadding(p.xPad))
    .call(styleAxis);
  g.append('g').attr('transform', `translate(${p.xr[0]},0)`)
    .call(d3.axisLeft(y).tickValues(volcanoYTicks).tickFormat(d => String(d)).tickSize(-3).tickSizeOuter(0).tickPadding(9))
    .call(styleAxis);
  rings(g, p.core, x, y, 2.3, 1.8, CORE);
  rings(g, p.black, x, y, 2.3, 0.8, RING);
  const [xl, xrr, y0, c] = p.thr;
  const ds = c / (p.yd[1] - y0);
  const line = d3.line().x(d => x(d[0])).y(d => y(d[1]));
  const right = [], left = [];
  const dR = p.lineEnd - xrr, dL = xl - p.xd[0];
  for (let k = 0; k <= 120; k++) {
    const t = k / 120;
    const a = ds * Math.pow(dR / ds, t); right.push([xrr + a, y0 + c / a]);
    const b = ds * Math.pow(dL / ds, t); left.push([xl - b, y0 + c / b]);
  }
  g.append('path').attr('d', line(right)).attr('fill', 'none').attr('stroke', THR).attr('stroke-width', 0.9);
  g.append('path').attr('d', line(left)).attr('fill', 'none').attr('stroke', THR).attr('stroke-width', 0.9);
  dots(g, p.red, x, y, 2.2);
  g.append('text').attr('x', x(p.relA[0])).attr('y', y(p.relA[1])).attr('dy', '0.35em')
    .attr('fill', RED).style('font-size', '11.5px').text('RelA');
  g.append('text').attr('x', 51.7).attr('y', p.letterY).attr('dy', '0.36em')
    .attr('fill', '#111').style('font-size', '14px').style('font-weight', 'bold').text(volcanoLetters[i]);
  xTitle(volcanoXTitles[i], 120.5, p.xTitleY);
  yTitle(volcanoYTitles[i], 7, p.yTitleY);
});

mistPanels.forEach((p, i) => {
  const x = d3.scaleLinear().domain(p.xd).range(p.xr);
  const y = d3.scaleLinear().domain([-0.2, 1.2]).range(p.yr);
  const g = svg.append('g');
  g.append('rect').attr('x', p.xr[0]).attr('y', p.frameTop).attr('width', p.xr[1] - p.xr[0]).attr('height', p.yr[0] - p.frameTop)
    .attr('fill', 'none').attr('stroke', AX).attr('stroke-width', 1);
  g.append('g').attr('transform', `translate(0,${p.yr[0]})`)
    .call(d3.axisBottom(x).tickValues(p.xt).tickFormat(d => d.toFixed(1)).tickSize(-3).tickSizeOuter(0).tickPadding(p.xPad))
    .call(styleAxis);
  g.append('g').attr('transform', `translate(${p.xr[0]},0)`)
    .call(d3.axisLeft(y).tickValues(mistTicks).tickFormat(d => d.toFixed(1)).tickSize(-3).tickSizeOuter(0).tickPadding(7))
    .call(styleAxis);
  g.selectAll('.domain').remove();
  rings(g, p.band, x, y, 2.0, 1.6, CORE);
  rings(g, p.black, x, y, 2.0, 0.8, RING);
  dots(g, p.red, x, y, 2.0);
  g.append('line').attr('x1', x(mistThreshold)).attr('x2', x(mistThreshold)).attr('y1', p.yr[0]).attr('y2', p.frameTop).attr('stroke', THR).attr('stroke-width', 0.9);
  g.append('line').attr('x1', p.xr[0]).attr('x2', p.xr[1]).attr('y1', y(mistThreshold)).attr('y2', y(mistThreshold)).attr('stroke', THR).attr('stroke-width', 0.9);
  const t = g.append('text').attr('x', p.r2[0]).attr('y', p.r2[1]).attr('dy', '0.35em').attr('text-anchor', 'end')
    .attr('fill', TXT).style('font-size', '11px');
  t.append('tspan').text('r');
  t.append('tspan').attr('dy', '-0.4em').style('font-size', '7.5px').text('2');
  t.append('tspan').attr('dy', '0.4em').text(' = ' + r2Values[i]);
  g.append('text').attr('x', p.letter[0]).attr('y', p.letter[1]).attr('dy', '0.36em')
    .attr('fill', '#111').style('font-size', '14px').style('font-weight', 'bold').text(mistLetters[i]);
  xTitle(mistXTitles[i], (p.xr[0] + p.xr[1]) / 2, p.xTitleY);
  yTitle(mistYTitle, 240, p.yTitleY);
});
</script>
</body></html>
